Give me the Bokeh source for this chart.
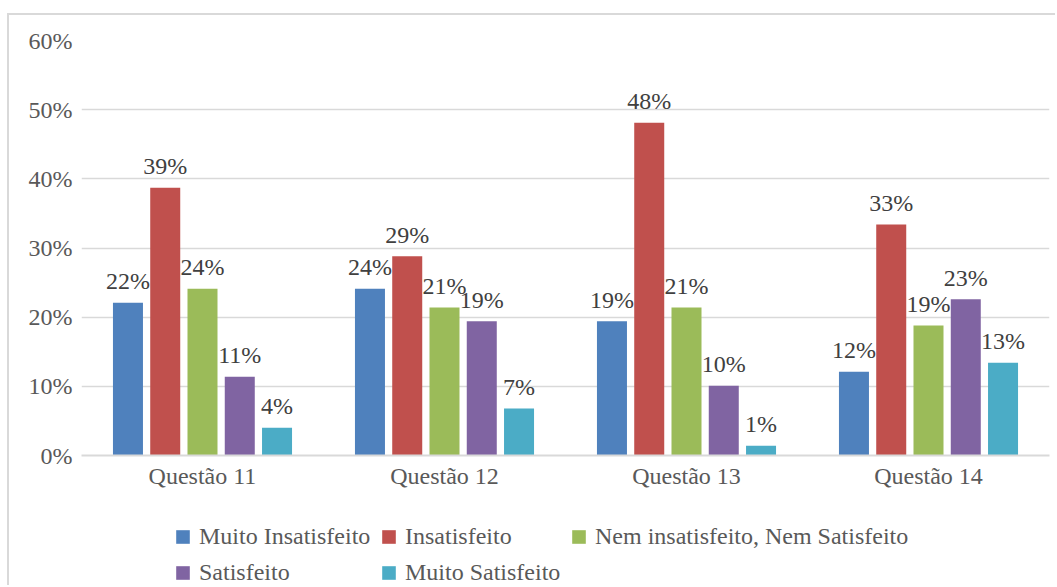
from bokeh.plotting import figure
from bokeh.layouts import column
from bokeh.models import (ColumnDataSource, FactorRange, Range1d, FixedTicker,
                          NumeralTickFormatter, Legend, LegendItem)
from bokeh.transform import dodge
from bokeh.embed import file_html
from bokeh.resources import INLINE

# Survey answers per question (share of respondents)
categories = ["Questão 11", "Questão 12", "Questão 13", "Questão 14"]
series_names = ["Muito Insatisfeito", "Insatisfeito",
                "Nem insatisfeito, Nem Satisfeito", "Satisfeito",
                "Muito Satisfeito"]
muito_insatisfeito = [0.221, 0.241, 0.194, 0.121]
insatisfeito = [0.387, 0.288, 0.481, 0.334]
nem_nem = [0.241, 0.214, 0.214, 0.188]
satisfeito = [0.114, 0.194, 0.101, 0.226]
muito_satisfeito = [0.040, 0.068, 0.014, 0.134]
y_ticks = [0.0, 0.1, 0.2, 0.3, 0.4, 0.5, 0.6]

series_values = [muito_insatisfeito, insatisfeito, nem_nem, satisfeito,
                 muito_satisfeito]
colors = ["#4F81BD", "#C0504D", "#9BBB59", "#8064A2", "#4BACC6"]
offsets = [-0.308, -0.154, 0.0, 0.154, 0.308]

FONT = "Times New Roman"
FS = "24px"
BORDER = "2px solid #d9d9d9"

data = {"cat": categories}
for i, vals in enumerate(series_values):
    data[f"s{i}"] = vals
    data[f"t{i}"] = [f"{round(v * 100)}%" for v in vals]
source = ColumnDataSource(data)

# ---- main chart ----
p = figure(x_range=FactorRange(*categories, range_padding=0),
           y_range=Range1d(0, 0.6),
           width=1048, height=485,
           output_backend="svg", toolbar_location=None,
           min_border_left=72, min_border_right=8,
           min_border_top=25, min_border_bottom=45)
p.margin = (13, 0, 0, 7)
p.styles = {"border-top": BORDER, "border-left": BORDER}
p.outline_line_color = None
p.background_fill_color = "white"
p.border_fill_color = "white"

for i in range(5):
    xs = dodge("cat", offsets[i], range=p.x_range)
    p.vbar(x=xs, top=f"s{i}", width=0.124, source=source,
           fill_color=colors[i], line_color=None)
    p.text(x=xs, y=f"s{i}", text=f"t{i}", source=source,
           text_align="center", text_baseline="middle", y_offset=-21.5,
           text_font=FONT, text_font_size=FS, text_color="#404040")

p.xgrid.grid_line_color = None
p.ygrid.grid_line_color = "#d9d9d9"
p.ygrid.grid_line_width = 1.3
p.yaxis.ticker = FixedTicker(ticks=y_ticks)
p.yaxis.formatter = NumeralTickFormatter(format="0%")
p.yaxis.axis_line_color = None
p.yaxis.major_tick_line_color = None
p.yaxis.minor_tick_line_color = None
p.yaxis.major_tick_out = 0
p.yaxis.minor_tick_out = 0
p.yaxis.major_label_standoff = 9
p.xaxis.axis_line_color = "#d9d9d9"
p.xaxis.axis_line_width = 2
p.xaxis.major_tick_line_color = None
p.xaxis.minor_tick_line_color = None
p.xaxis.major_tick_out = 0
p.xaxis.minor_tick_out = 0
p.xaxis.major_label_standoff = 7
for ax in (p.xaxis, p.yaxis):
    ax.major_label_text_font = FONT
    ax.major_label_text_font_size = FS
    ax.major_label_text_color = "#595959"

# ---- legend strip under the chart ----
leg = figure(x_range=p.x_range, y_range=Range1d(10, 11),
             width=1048, height=87,
             output_backend="svg", toolbar_location=None,
             x_axis_location=None, y_axis_location=None, min_border=0)
leg.margin = (0, 0, 0, 7)
leg.styles = {"border-left": BORDER}
leg.outline_line_color = None
leg.xgrid.grid_line_color = None
leg.ygrid.grid_line_color = None
leg.background_fill_color = "white"
leg.border_fill_color = "white"

legend_pos = [(93, 35), (299, 35), (489, 35), (93, -1), (299, -1)]
for i in range(5):
    r = leg.vbar(x=dodge("cat", offsets[i], range=leg.x_range),
                 top=f"s{i}", width=0.124, source=source,
                 fill_color=colors[i], line_color=None)
    legend = Legend(items=[LegendItem(label=series_names[i], renderers=[r])],
                    location=legend_pos[i], orientation="horizontal",
                    glyph_width=17, glyph_height=17, label_standoff=8,
                    padding=0, margin=0, spacing=0,
                    border_line_color=None, background_fill_alpha=0,
                    label_text_font=FONT, label_text_font_size=FS,
                    label_text_color="#595959")
    leg.add_layout(legend, "center")

page = column(p, leg, spacing=0)
open("out.html", "w").write(file_html(page, INLINE))
